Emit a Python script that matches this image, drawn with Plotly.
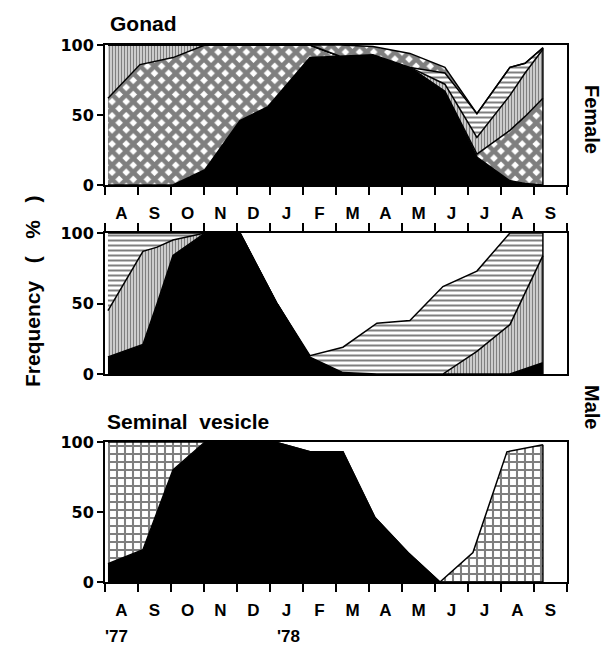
import plotly.graph_objects as go

# ---------------- data ----------------
months = ["A", "S", "O", "N", "D", "J", "F", "M", "A", "M", "J", "J", "A", "S"]
years = ["'77", "'78"]

# Female gonad (sampling time in months from 1 Aug 1977)
t_fem = [0.09, 1.06, 2.06, 3.03, 4.09, 4.94, 6.21, 7.12, 8.12, 9.24, 10.30, 11.27, 12.27, 12.73, 13.27]
fem_black = [0, 0, 0, 11, 46, 56, 91, 92, 93, 84, 67, 20, 3, 1, 0]
fem_cross_low = [62, 86, 91, 89, 54, 44, 9, 0, 0, 0, 0, 2, 36, 48, 62]
fem_stripes = [38, 14, 9, 0, 0, 0, 0, 0, 0, 0, 5, 12, 25, 31, 35]
fem_brick = [0, 0, 0, 0, 0, 0, 0, 0, 0, 0, 8, 17, 20, 7, 1]
fem_cross_high = [0, 0, 0, 0, 0, 0, 0, 8, 6, 10, 4, 0, 0, 0, 0]

# Male gonad
t_male = [0.09, 1.15, 1.58, 2.06, 3.03, 4.09, 5.21, 6.21, 7.21, 8.24, 9.24, 10.24, 11.27, 12.27, 13.27]
male_black = [12, 21, 50, 84, 100, 100, 50, 12, 1, 0, 0, 0, 0, 0, 8]
male_stripes = [33, 66, 40, 11, 0, 0, 0, 0, 0, 0, 0, 0, 16, 35, 76]
male_brick = [55, 13, 10, 5, 0, 0, 0, 1, 18, 36, 38, 62, 57, 65, 16]

# Seminal vesicle
t_sv = [0.09, 1.15, 1.58, 2.06, 3.03, 4.09, 5.15, 6.21, 7.21, 8.18, 9.18, 10.15, 11.15, 12.18, 13.27]
sv_black = [13, 23, 50, 80, 100, 100, 100, 93, 93, 46, 21, 0, 0, 0, 0]
sv_grid = [87, 77, 50, 20, 0, 0, 0, 0, 0, 0, 0, 0, 21, 93, 98]

# ---------------- styles ----------------
BLACK = dict(fillcolor="black")
CROSS = dict(fillpattern=dict(shape="x", size=10, solidity=0.7, fgcolor="black", bgcolor="white"))
STRIPES = dict(fillpattern=dict(shape="|", size=3, solidity=0.6, fgcolor="black", bgcolor="white"))
BRICK = dict(fillpattern=dict(shape="-", size=5, solidity=0.4, fgcolor="black", bgcolor="white"))
GRID = dict(fillpattern=dict(shape="+", size=8, solidity=0.45, fgcolor="black", bgcolor="white"))

fig = go.Figure()


def add_layers(t, layers, xa, ya, group):
    for vals, style in layers:
        fig.add_trace(go.Scatter(
            x=t, y=vals, mode="lines", stackgroup=group,
            line=dict(color="black", width=1.5, shape="linear"),
            xaxis=xa, yaxis=ya, hoverinfo="skip", showlegend=False, **style))
    total_end = sum(v[-1] for v, _ in layers)
    fig.add_trace(go.Scatter(x=[t[-1], t[-1]], y=[0, total_end], mode="lines",
                             line=dict(color="black", width=1.5),
                             xaxis=xa, yaxis=ya, hoverinfo="skip", showlegend=False))


add_layers(t_fem, [(fem_black, BLACK), (fem_cross_low, CROSS), (fem_stripes, STRIPES),
                   (fem_brick, BRICK), (fem_cross_high, CROSS)], "x", "y", "f")
add_layers(t_male, [(male_black, BLACK), (male_stripes, STRIPES), (male_brick, BRICK)], "x2", "y2", "m")
add_layers(t_sv, [(sv_black, BLACK), (sv_grid, GRID)], "x3", "y3", "s")

W, H = 605, 651
xdom = [105 / W, 567 / W]
label_pos = [i + 0.5 for i in range(len(months))]
tick_pos = list(range(len(months) + 1))

NARROW = "Liberation Sans Narrow, Liberation Sans, Arial"


def xaxis(side, labels):
    return dict(domain=xdom, range=[0, len(months)], side=side, automargin=False,
                showline=True, linecolor="black", linewidth=2, mirror=True,
                tickvals=label_pos, ticktext=months, ticks="",
                showticklabels=labels, ticklabelstandoff=12,
                tickfont=dict(family=NARROW, size=17, color="black", weight="bold"),
                minor=dict(tickvals=tick_pos, ticks="outside", ticklen=8, tickwidth=2,
                           tickcolor="black", showgrid=False),
                showgrid=False, zeroline=False, fixedrange=True)


def yaxis(top_px, bot_px, anchor):
    return dict(domain=[1 - bot_px / H, 1 - top_px / H], range=[0, 100], anchor=anchor,
                automargin=False,
                showline=True, linecolor="black", linewidth=2, mirror=True,
                tickvals=[0, 50, 100], ticktext=["0", "50", "100"],
                ticks="outside", ticklen=6, tickwidth=2, tickcolor="black",
                tickfont=dict(family="DejaVu Sans", size=16, color="black", weight="bold"),
                showgrid=False, zeroline=False, fixedrange=True)


fig.update_layout(
    width=W, height=H, margin=dict(l=0, r=0, t=0, b=0, pad=0, autoexpand=False),
    paper_bgcolor="white", plot_bgcolor="white",
    xaxis=dict(anchor="y", **xaxis("bottom", True)),
    xaxis2=dict(anchor="y2", **xaxis("top", False)),
    xaxis3=dict(anchor="y3", **xaxis("bottom", True)),
    yaxis=yaxis(45, 185, "x"),
    yaxis2=yaxis(233, 374, "x2"),
    yaxis3=yaxis(442, 582, "x3"),
)

TFONT = dict(family="Liberation Sans, Arial", size=21, color="black", weight="bold")
SFONT = dict(family="Liberation Sans, Arial", size=20, color="black", weight="bold")
ann = [
    dict(text="Gonad", x=108 / W, y=1 - 23 / H, xanchor="left", yanchor="middle", font=TFONT),
    dict(text="Seminal\u00a0 vesicle", x=105 / W, y=1 - 421 / H, xanchor="left", yanchor="middle", font=TFONT),
    dict(text="Female", x=592 / W, y=1 - 119 / H, textangle=90, xanchor="center", yanchor="middle", font=SFONT),
    dict(text="Male", x=592 / W, y=1 - 407 / H, textangle=90, xanchor="center", yanchor="middle", font=SFONT),
    dict(text="Frequency\u00a0\u00a0\u00a0(\u00a0\u00a0\u00a0%\u00a0\u00a0\u00a0)", x=32 / W, y=1 - 292 / H,
         textangle=-90, xanchor="center", yanchor="middle", font=TFONT),
    dict(text=years[0], x=116 / W, y=1 - 636 / H, xanchor="center", yanchor="middle",
         font=dict(family=NARROW, size=17, color="black", weight="bold")),
    dict(text=years[1], x=288 / W, y=1 - 636 / H, xanchor="center", yanchor="middle",
         font=dict(family=NARROW, size=17, color="black", weight="bold")),
]
for a in ann:
    a.update(xref="paper", yref="paper", showarrow=False)
fig.update_layout(annotations=ann)

fig.write_html("out.html", config={"displayModeBar": False},
               post_script="document.body.style.margin='0px';")
